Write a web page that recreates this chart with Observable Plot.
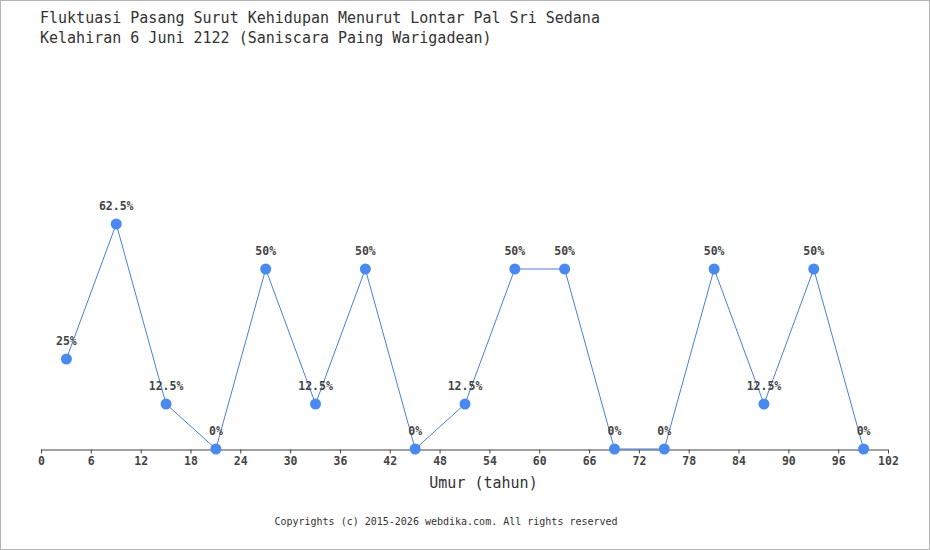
<!DOCTYPE html>
<html>
<head>
<meta charset="utf-8">
<script src="https://cdn.jsdelivr.net/npm/d3@7"></script>
<script src="https://cdn.jsdelivr.net/npm/@observablehq/plot@0.6"></script>
<style>
  html, body { margin: 0; padding: 0; background: #fff; }
  #wrap { position: relative; width: 928px; height: 548px; border: 1px solid #b4b4b4; overflow: hidden; font-family: "DejaVu Sans Mono", monospace; }
  #title { height: 43px; padding: 7px 0 0 39px; font-size: 15px; line-height: 20px; color: #333; }
  #chart svg { display: block; }
  #copy { position: absolute; left: 0; top: 515px; width: 890px; text-align: center; font-size: 10px; color: #333; }
</style>
</head>
<body>
<div id="wrap">
  <div id="title">Fluktuasi Pasang Surut Kehidupan Menurut Lontar Pal Sri Sedana<br>Kelahiran 6 Juni 2122 (Saniscara Paing Warigadean)</div>
  <div id="chart"></div>
  <div id="copy">Copyrights (c) 2015-2026 <span>webdika</span>.com. All rights reserved</div>
</div>
<script>
const ages = [3, 9, 15, 21, 27, 33, 39, 45, 51, 57, 63, 69, 75, 81, 87, 93, 99];
const values = [25, 62.5, 12.5, 0, 50, 12.5, 50, 0, 12.5, 50, 50, 0, 0, 50, 12.5, 50, 0];
const xTicks = [0, 6, 12, 18, 24, 30, 36, 42, 48, 54, 60, 66, 72, 78, 84, 90, 96, 102];
const xLabel = "Umur (tahun)";

const data = ages.map((a, i) => ({age: a, value: values[i]}));

const chart = Plot.plot({
  width: 928,
  height: 450,
  marginLeft: 40,
  marginRight: 41,
  marginTop: 145.5,
  marginBottom: 52.5,
  style: {fontFamily: "DejaVu Sans Mono, monospace", background: "#fff"},
  x: {domain: [0, 102]},
  y: {domain: [0, 70], axis: null},
  marks: [
    Plot.ruleY([0], {stroke: "#444", strokeWidth: 1.2, dy: 1}),
    Plot.axisX({ticks: xTicks, tickSize: 4, tickPadding: 3, label: null, stroke: "#444", fill: "#444", fontSize: 11.5, fontWeight: "bold", dy: 1}),
    Plot.line(data, {x: "age", y: "value", stroke: "#4a7fd8", strokeWidth: 1}),
    Plot.dot(data, {x: "age", y: "value", r: 5.5, fill: "#4a8af0", stroke: "none"}),
    Plot.text(data, {x: "age", y: "value", text: d => d.value + "%", dy: -18, fill: "#444", fontSize: 11.5, fontWeight: "bold"}),
    Plot.text([xLabel], {frameAnchor: "bottom", dy: 38.5, dx: 18.5, fill: "#333", fontSize: 15})
  ]
});
document.getElementById("chart").appendChild(chart);
</script>
</body>
</html>
